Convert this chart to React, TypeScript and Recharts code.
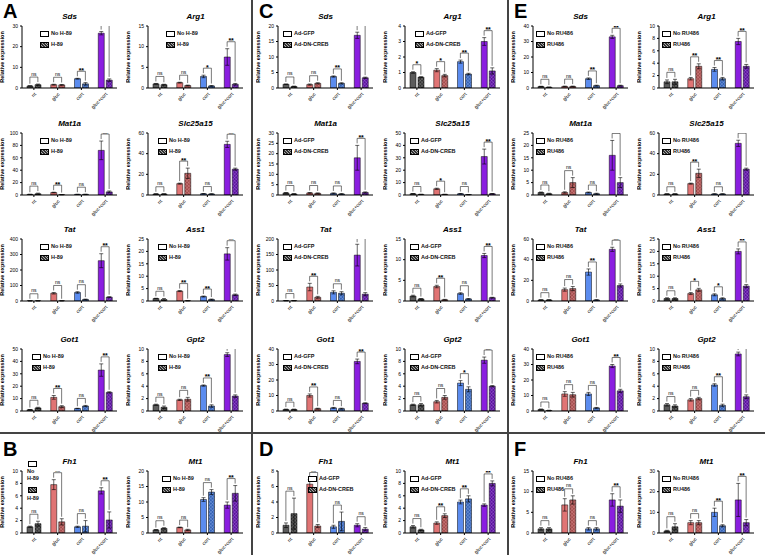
import React from 'react';
import { ComposedChart, Bar, Scatter, XAxis, YAxis, Cell, ErrorBar } from 'recharts';

const CATS = ['nt', 'gluc', 'cort', 'gluc+cort'];
const FILL_A = ['#5c5c5c', '#e07474', '#5b8cef', '#8a1ee0'];
const FILL_B = ['#333333', '#a34c4c', '#3462b5', '#5a129c'];
const HATCH_B = ['#9a9a9a', '#e8a0a0', '#9ab8f0', '#b27ae8'];

// ---- Panel A (No H-89 / H-89)
const A_SDS = { title: 'Sds', ticks: [0, 10, 20, 30], ctrl: [1.0, 1.6, 4.5, 26.5], trt: [1.6, 1.5, 2.0, 3.8], ctrlErr: [0.1, 0.2, 0.2, 0.8], trtErr: [0.3, 0.2, 0.6, 0.6], sig: ['ns', 'ns', '**', '**'] };
const A_ARG1 = { title: 'Arg1', ticks: [0, 5, 10, 15], ctrl: [1.0, 1.3, 2.8, 7.5], trt: [0.8, 0.6, 0.5, 0.9], ctrlErr: [0.1, 0.1, 0.3, 2.0], trtErr: [0.1, 0.1, 0.1, 0.2], sig: ['ns', 'ns', '*', '**'] };
const A_MAT1A = { title: 'Mat1a', ticks: [0, 20, 40, 60, 80, 100], ctrl: [1.0, 4.0, 1.0, 72], trt: [2.0, 0.5, 1.0, 5.0], ctrlErr: [0.2, 0.5, 0.2, 15], trtErr: [1.0, 0.2, 0.3, 1.5], sig: ['ns', '**', 'ns', '**'] };
const A_SLC = { title: 'Slc25a15', ticks: [0, 20, 40, 60], ctrl: [1.0, 11, 1.2, 49], trt: [1.0, 21, 1.0, 25], ctrlErr: [0.2, 0.5, 0.2, 3], trtErr: [0.2, 5, 0.2, 1], sig: ['ns', '**', 'ns', '**'] };
const A_TAT = { title: 'Tat', ticks: [0, 100, 200, 300, 400], ctrl: [1, 50, 55, 260], trt: [1, 1, 10, 25], ctrlErr: [0.5, 5, 5, 45], trtErr: [0.5, 0.5, 2, 3], sig: ['ns', 'ns', 'ns', '**'] };
const A_ASS1 = { title: 'Ass1', ticks: [0, 5, 10, 15, 20, 25], ctrl: [1.0, 4.0, 1.8, 19], trt: [0.6, 0.1, 0.6, 2.5], ctrlErr: [0.1, 0.2, 0.2, 2.5], trtErr: [0.4, 0.05, 0.2, 0.3], sig: ['ns', '**', '**', '**'] };
const A_GOT1 = { title: 'Got1', ticks: [0, 10, 20, 30, 40, 50], ctrl: [1.0, 11, 2.0, 33], trt: [2.5, 3.5, 4.0, 15], ctrlErr: [0.2, 1.5, 0.2, 5], trtErr: [0.5, 0.8, 0.5, 0.5], sig: ['ns', '**', 'ns', '**'] };
const A_GPT2 = { title: 'Gpt2', ticks: [0, 2, 4, 6, 8, 10], ctrl: [1.0, 1.8, 4.1, 9.1], trt: [0.6, 1.9, 0.8, 2.4], ctrlErr: [0.1, 0.1, 0.1, 0.3], trtErr: [0.2, 0.3, 0.2, 0.2], sig: ['ns', 'ns', '**', '**'] };
// ---- Panel B
const B_FH1 = { title: 'Fh1', ticks: [0, 2, 4, 6, 8, 10], ctrl: [1.0, 7.8, 1.0, 6.8], trt: [1.5, 1.8, 1.1, 2.1], ctrlErr: [0.1, 0.8, 0.1, 0.5], trtErr: [0.4, 0.5, 0.9, 1.3], sig: ['ns', '**', 'ns', '**'] };
const B_MT1 = { title: 'Mt1', ticks: [0, 5, 10, 15, 20], ctrl: [1.0, 1.8, 10.8, 9.0], trt: [1.5, 1.0, 13.2, 12.8], ctrlErr: [0.1, 0.1, 0.6, 1.0], trtErr: [0.2, 0.2, 0.8, 2.5], sig: ['ns', 'ns', 'ns', '**'] };
// ---- Panel C (Ad-GFP / Ad-DN-CREB)
const C_SDS = { title: 'Sds', ticks: [0, 5, 10, 15, 20], ctrl: [1.2, 1.1, 3.7, 17], trt: [0.5, 1.5, 1.5, 3.3], ctrlErr: [0.1, 0.2, 0.2, 1], trtErr: [0.1, 0.2, 0.2, 0.2], sig: ['ns', 'ns', '**', '**'] };
const C_ARG1 = { title: 'Arg1', ticks: [0, 1, 2, 3, 4], ctrl: [1.0, 1.15, 1.7, 3.0], trt: [0.7, 0.8, 0.9, 1.1], ctrlErr: [0.05, 0.1, 0.1, 0.25], trtErr: [0.03, 0.08, 0.05, 0.2], sig: ['*', '*', '**', '**'] };
const C_MAT1A = { title: 'Mat1a', ticks: [0, 5, 10, 15, 20, 25, 30], ctrl: [1.0, 1.0, 0.8, 18], trt: [0.5, 0.8, 0.5, 1.2], ctrlErr: [0.2, 0.2, 0.2, 6], trtErr: [0.2, 0.2, 0.2, 0.3], sig: ['ns', 'ns', 'ns', '**'] };
const C_SLC = { title: 'Slc25a15', ticks: [0, 10, 20, 30, 40, 50], ctrl: [1.0, 5.0, 1.0, 31], trt: [0.5, 0.5, 0.3, 1.0], ctrlErr: [0.2, 0.5, 0.2, 6], trtErr: [0.1, 0.1, 0.1, 0.2], sig: ['ns', '*', 'ns', '**'] };
const C_TAT = { title: 'Tat', ticks: [0, 50, 100, 150, 200], ctrl: [1, 45, 28, 148], trt: [1, 12, 25, 22], ctrlErr: [0.5, 12, 5, 35], trtErr: [0.5, 3, 5, 5], sig: ['ns', '**', 'ns', '**'] };
const C_ASS1 = { title: 'Ass1', ticks: [0, 5, 10, 15], ctrl: [1.2, 3.5, 1.8, 11], trt: [0.5, 0.3, 0.5, 0.8], ctrlErr: [0.2, 0.3, 0.2, 0.5], trtErr: [0.1, 0.1, 0.1, 0.1], sig: ['ns', '**', 'ns', '**'] };
const C_GOT1 = { title: 'Got1', ticks: [0, 10, 20, 30, 40], ctrl: [1.0, 10, 2.0, 32], trt: [1.0, 1.5, 1.5, 5.0], ctrlErr: [0.2, 1.0, 0.3, 1.5], trtErr: [0.2, 0.3, 0.3, 0.3], sig: ['ns', '**', 'ns', '**'] };
const C_GPT2 = { title: 'Gpt2', ticks: [0, 2, 4, 6, 8, 10], ctrl: [1.0, 1.5, 4.5, 8.2], trt: [1.0, 2.2, 3.5, 4.0], ctrlErr: [0.1, 0.2, 0.4, 0.5], trtErr: [0.2, 0.3, 0.4, 0.1], sig: ['ns', 'ns', '*', '**'] };
// ---- Panel D
const D_FH1 = { title: 'Fh1', ticks: [0, 2, 4, 6, 8], ctrl: [1.0, 6.3, 0.8, 1.0], trt: [2.5, 0.9, 1.5, 0.5], ctrlErr: [0.3, 0.6, 0.2, 0.2], trtErr: [2.0, 0.2, 1.2, 0.2], sig: ['ns', '**', 'ns', 'ns'] };
const D_MT1 = { title: 'Mt1', ticks: [0, 2, 4, 6, 8, 10], ctrl: [1.0, 1.6, 5.0, 4.5], trt: [0.5, 2.8, 5.5, 8.0], ctrlErr: [0.2, 0.2, 0.3, 0.2], trtErr: [0.1, 0.3, 0.5, 0.4], sig: ['ns', '**', '**', '**'] };
// ---- Panel E (No RU486 / RU486)
const E_SDS = { title: 'Sds', ticks: [0, 10, 20, 30, 40], ctrl: [1.0, 1.0, 6.0, 33], trt: [0.5, 1.0, 1.5, 1.5], ctrlErr: [0.1, 0.2, 0.5, 1.0], trtErr: [0.1, 0.2, 0.3, 0.3], sig: ['ns', 'ns', '**', '**'] };
const E_ARG1 = { title: 'Arg1', ticks: [0, 2, 4, 6, 8, 10], ctrl: [1.0, 1.5, 3.0, 7.5], trt: [1.0, 3.5, 1.5, 3.5], ctrlErr: [0.3, 0.2, 0.3, 0.5], trtErr: [0.4, 0.4, 0.2, 0.3], sig: ['ns', '**', '**', '**'] };
const E_MAT1A = { title: 'Mat1a', ticks: [0, 5, 10, 15, 20, 25], ctrl: [1.0, 1.0, 1.0, 16], trt: [0.5, 5.0, 0.5, 5.0], ctrlErr: [0.2, 0.3, 0.2, 6], trtErr: [0.2, 2.0, 0.2, 2.0], sig: ['ns', 'ns', 'ns', '**'] };
const E_SLC = { title: 'Slc25a15', ticks: [0, 20, 40, 60], ctrl: [1.0, 11, 1.0, 50], trt: [1.0, 21, 1.0, 25], ctrlErr: [0.2, 0.5, 0.2, 3], trtErr: [0.2, 4, 0.2, 1], sig: ['ns', '**', 'ns', '**'] };
const E_TAT = { title: 'Tat', ticks: [0, 20, 40, 60], ctrl: [1.0, 11, 28, 50], trt: [1.0, 12, 1.0, 15], ctrlErr: [0.3, 1.5, 3, 2], trtErr: [0.3, 2, 0.3, 1.5], sig: ['ns', 'ns', '**', '**'] };
const E_ASS1 = { title: 'Ass1', ticks: [0, 5, 10, 15, 20, 25], ctrl: [1.0, 3.0, 2.5, 20], trt: [1.0, 4.5, 1.0, 6.0], ctrlErr: [0.3, 0.4, 0.4, 1.0], trtErr: [0.3, 0.6, 0.3, 0.6], sig: ['ns', '*', '*', '**'] };
const E_GOT1 = { title: 'Got1', ticks: [0, 10, 20, 30, 40], ctrl: [1.0, 11, 11, 29], trt: [0.3, 10.5, 2.0, 13], ctrlErr: [0.3, 1.5, 1.0, 1.0], trtErr: [0.2, 1.5, 0.3, 1.0], sig: ['ns', 'ns', 'ns', '**'] };
const E_GPT2 = { title: 'Gpt2', ticks: [0, 2, 4, 6, 8, 10], ctrl: [1.0, 1.8, 4.2, 9.2], trt: [0.8, 2.0, 0.9, 2.3], ctrlErr: [0.2, 0.2, 0.2, 0.3], trtErr: [0.2, 0.2, 0.2, 0.3], sig: ['ns', 'ns', '**', '**'] };
// ---- Panel F
const F_FH1 = { title: 'Fh1', ticks: [0, 5, 10, 15], ctrl: [1.0, 6.8, 1.0, 8.0], trt: [1.0, 8.0, 1.0, 6.5], ctrlErr: [0.3, 1.5, 0.3, 1.5], trtErr: [0.3, 1.0, 0.3, 1.5], sig: ['ns', 'ns', 'ns', '**'] };
const F_MT1 = { title: 'Mt1', ticks: [0, 10, 20, 30], ctrl: [1.0, 5.0, 10, 16], trt: [3.0, 5.0, 3.5, 5.0], ctrlErr: [0.3, 1.0, 2.0, 8.0], trtErr: [1.5, 1.0, 0.5, 1.5], sig: ['ns', 'ns', '**', '**'] };

const LEG_A = ['No H-89', 'H-89'];
const LEG_C = ['Ad-GFP', 'Ad-DN-CREB'];
const LEG_E = ['No RU486', 'RU486'];

const CH_W = 122;
const CH_H = 110;
const M_TOP = 24;
const X_H = 24;
const Y_W = 22;
const M_RIGHT = 5;
const PLOT_H = CH_H - M_TOP - X_H;
const BAR = 6;
const GAP = 2;

type Spec = { title: string; ticks: number[]; ctrl: number[]; trt: number[]; ctrlErr: number[]; trtErr: number[]; sig: string[] };

function MiniChart({ spec, left, top, legend, legendDx, id, stacked }: { spec: Spec; left: number; top: number; legend: string[]; legendDx: number; id: string; stacked?: boolean }) {
  const yMax = spec.ticks[spec.ticks.length - 1];
  const ppu = PLOT_H / yMax;
  const data = CATS.map((c, i) => {
    const ta = spec.ctrl[i] + spec.ctrlErr[i];
    const tb = spec.trt[i] + spec.trtErr[i];
    return { cat: c, a: spec.ctrl[i], b: spec.trt[i], ea: spec.ctrlErr[i], eb: spec.trtErr[i], ta, tb, sig: spec.sig[i], br: Math.max(ta, tb) + 7 / ppu };
  });
  const shape = (p: any) => {
    const { cx, cy, payload } = p;
    if (cx == null || cy == null) return <g />;
    const off = (BAR + GAP) / 2;
    const yA = Math.max(cy + 2, cy + (payload.br - payload.ta) * ppu - 2);
    const yB = Math.max(cy + 2, cy + (payload.br - payload.tb) * ppu - 2);
    const isNs = payload.sig === 'ns';
    return (
      <g>
        <path d={`M${cx - off},${yA}V${cy}H${cx + off}V${yB}`} stroke="#222" strokeWidth={0.6} fill="none" />
        <text x={cx} y={isNs ? cy - 1.5 : cy + 1.5} fontSize={isNs ? 5 : 7} textAnchor="middle" fill="#000" fontWeight={isNs ? 'normal' : 'bold'}>{payload.sig}</text>
      </g>
    );
  };
  const plotLeft = Y_W;
  const lx = left + plotLeft + legendDx;
  const ly = top + M_TOP + 5;
  const sw = (k: number): React.CSSProperties => ({
    position: 'absolute', width: 7, height: 3.5, border: '0.8px solid #000',
    background: k === 0 ? '#fff' : 'repeating-linear-gradient(45deg, #333 0 1px, #aaa 1px 2px)',
  });
  const txt: React.CSSProperties = { position: 'absolute', fontSize: 5.5, lineHeight: '6px', whiteSpace: 'nowrap', color: '#111', fontWeight: 'bold' };
  return (
    <>
      <div style={{ position: 'absolute', left, top }}>
        <ComposedChart width={CH_W} height={CH_H} data={data} margin={{ top: M_TOP, right: M_RIGHT, left: 0, bottom: 0 }} barSize={BAR} barGap={GAP}>
          <defs>
            {FILL_B.map((f, i) => (
              <pattern key={i} id={`${id}-h${i}`} width={2.4} height={2.4} patternUnits="userSpaceOnUse" patternTransform="rotate(45)">
                <rect width={2.4} height={2.4} fill={f} />
                <line x1={0} y1={0} x2={0} y2={2.4} stroke={HATCH_B[i]} strokeWidth={0.6} />
                <line x1={0} y1={0} x2={2.4} y2={0} stroke={HATCH_B[i]} strokeWidth={0.6} />
              </pattern>
            ))}
          </defs>
          <XAxis dataKey="cat" interval={0} angle={-45} textAnchor="end" height={X_H} tickSize={2} stroke="#000" tick={{ fontSize: 5, fill: '#000' }} />
          <YAxis width={Y_W} domain={[0, yMax]} ticks={spec.ticks} allowDataOverflow tickSize={2} stroke="#000" tick={{ fontSize: 5, fill: '#000' }}
            label={{ value: 'Relative expression', angle: -90, position: 'insideLeft', offset: 2, style: { fontSize: 5.5, fontWeight: 'bold', fill: '#000', textAnchor: 'middle' } }} />
          <Bar dataKey="a" isAnimationActive={false} stroke="#000" strokeWidth={0.5}>
            {data.map((d, i) => <Cell key={i} fill={FILL_A[i]} />)}
            <ErrorBar dataKey="ea" width={2} strokeWidth={0.6} stroke="#000" direction="y" />
          </Bar>
          <Bar dataKey="b" isAnimationActive={false} stroke="#000" strokeWidth={0.5}>
            {data.map((d, i) => <Cell key={i} fill={`url(#${id}-h${i})`} />)}
            <ErrorBar dataKey="eb" width={2} strokeWidth={0.6} stroke="#000" direction="y" />
          </Bar>
          <Scatter dataKey="br" shape={shape} isAnimationActive={false} legendType="none" />
        </ComposedChart>
      </div>
      <div style={{ position: 'absolute', left: left + plotLeft + 20, width: CH_W - plotLeft - M_RIGHT - 40, top: top + 10, textAlign: 'center', fontSize: 8, lineHeight: '10px', fontStyle: 'italic', fontWeight: 'bold' }}>{spec.title}</div>
      {stacked ? (
        <>
          <div style={{ ...sw(0), left: lx, top: top + 14 }} />
          <div style={{ ...txt, left: lx - 1, top: top + 21 }}>No</div>
          <div style={{ ...txt, left: lx - 1, top: top + 28 }}>H-89</div>
          <div style={{ ...sw(1), left: lx, top: top + 40 }} />
          <div style={{ ...txt, left: lx - 1, top: top + 48 }}>H-89</div>
        </>
      ) : (
        <>
          <div style={{ ...sw(0), left: lx, top: ly }} />
          <div style={{ ...txt, left: lx + 11, top: ly - 1 }}>{legend[0]}</div>
          <div style={{ ...sw(1), left: lx, top: ly + 11 }} />
          <div style={{ ...txt, left: lx + 11, top: ly + 10 }}>{legend[1]}</div>
        </>
      )}
    </>
  );
}

const COL_X = [0, 126, 256, 383, 511, 637];
const ROW_Y = [2, 109, 215, 325, 447];

const Letter = ({ t, x, y }: { t: string; x: number; y: number }) => (
  <div style={{ position: 'absolute', left: x, top: y, width: 16, height: 23, fontSize: 20, fontWeight: 'bold', lineHeight: '23px' }}>{t}</div>
);

export default function App() {
  const grid: [Spec, number, number, string[], number, boolean?][] = [
    [A_SDS, 0, 0, LEG_A, 18], [A_ARG1, 1, 0, LEG_A, 18],
    [A_MAT1A, 0, 1, LEG_A, 18], [A_SLC, 1, 1, LEG_A, 10],
    [A_TAT, 0, 2, LEG_A, 18], [A_ASS1, 1, 2, LEG_A, 10],
    [A_GOT1, 0, 3, LEG_A, 10], [A_GPT2, 1, 3, LEG_A, 10],
    [B_FH1, 0, 4, LEG_A, 6, true], [B_MT1, 1, 4, LEG_A, 14],
    [C_SDS, 2, 0, LEG_C, 5], [C_ARG1, 3, 0, LEG_C, 10],
    [C_MAT1A, 2, 1, LEG_C, 5], [C_SLC, 3, 1, LEG_C, 5],
    [C_TAT, 2, 2, LEG_C, 5], [C_ASS1, 3, 2, LEG_C, 5],
    [C_GOT1, 2, 3, LEG_C, 5], [C_GPT2, 3, 3, LEG_C, 5],
    [D_FH1, 2, 4, LEG_C, 30], [D_MT1, 3, 4, LEG_C, 5],
    [E_SDS, 4, 0, LEG_E, 3], [E_ARG1, 5, 0, LEG_E, 3],
    [E_MAT1A, 4, 1, LEG_E, 3], [E_SLC, 5, 1, LEG_E, 3],
    [E_TAT, 4, 2, LEG_E, 3], [E_ASS1, 5, 2, LEG_E, 3],
    [E_GOT1, 4, 3, LEG_E, 3], [E_GPT2, 5, 3, LEG_E, 3],
    [F_FH1, 4, 4, LEG_E, 3], [F_MT1, 5, 4, LEG_E, 3],
  ];
  return (
    <div style={{ position: 'absolute', left: 0, top: 0, width: 765, height: 555, background: '#fff', overflow: 'hidden', fontFamily: '"Liberation Sans", Arial, sans-serif' }}>
      {grid.map(([s, c, r, leg, dx, st], k) => (
        <MiniChart key={k} id={`ch${k}`} spec={s} left={COL_X[c]} top={ROW_Y[r]} legend={leg} legendDx={dx} stacked={st} />
      ))}
      <div style={{ position: 'absolute', left: 251, top: 0, width: 1.5, height: 555, background: '#444' }} />
      <div style={{ position: 'absolute', left: 507, top: 0, width: 1.5, height: 555, background: '#444' }} />
      <div style={{ position: 'absolute', left: 0, top: 432, width: 765, height: 1.5, background: '#444' }} />
      <Letter t="A" x={3} y={0} />
      <Letter t="B" x={3} y={438} />
      <Letter t="C" x={259} y={0} />
      <Letter t="D" x={259} y={438} />
      <Letter t="E" x={514} y={0} />
      <Letter t="F" x={514} y={438} />
    </div>
  );
}
